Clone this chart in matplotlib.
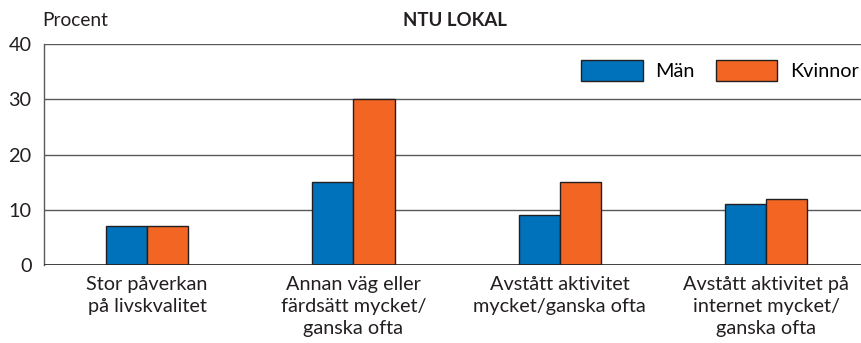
import matplotlib
matplotlib.use("Agg")
import matplotlib.pyplot as plt
import numpy as np

plt.rcParams['font.family'] = ['Lato', 'DejaVu Sans']

categories = [
    "Stor påverkan\npå livskvalitet",
    "Annan väg eller\nfärdsätt mycket/\nganska ofta",
    "Avstått aktivitet\nmycket/ganska ofta",
    "Avstått aktivitet på\ninternet mycket/\nganska ofta",
]
man = [7, 15, 9, 11]
kvinnor = [7, 30, 15, 12]
series_names = ["Män", "Kvinnor"]
yticks = [0, 10, 20, 30, 40]

c_blue = "#0072BC"
c_orange = "#F26522"
edge = "#231F20"
fs = 14.3

fig = plt.figure(figsize=(8.61, 3.43), dpi=100)
ax = fig.add_axes([44 / 861, 1 - 265 / 343, (861 - 44) / 861, (265 - 44) / 343])

x = np.arange(len(categories))
w = 0.2
ax.bar(x - w / 2, man, w, color=c_blue, edgecolor=edge, linewidth=1.0, zorder=3, label=series_names[0])
ax.bar(x + w / 2, kvinnor, w, color=c_orange, edgecolor=edge, linewidth=1.0, zorder=3, label=series_names[1])

ax.set_xlim(-0.5, 3.46)
ax.set_ylim(0, 40)
ax.set_yticks(yticks)
ax.set_yticklabels([str(v) for v in yticks], fontsize=fs, color="#231F20")
ax.set_xticks(x)
ax.set_xticklabels(categories, fontsize=fs, color="#231F20", linespacing=1.35, va="top")
ax.tick_params(axis="both", length=0)
ax.tick_params(axis="y", pad=9)
ax.tick_params(axis="x", pad=8)

for v in yticks[1:]:
    ax.axhline(v, color="#58595B", linewidth=1.0, zorder=1)
ax.axhline(0, color="#231F20", linewidth=1.2, zorder=4)

for s in ["top", "right", "bottom"]:
    ax.spines[s].set_visible(False)
ax.spines["left"].set_color("#58595B")
ax.spines["left"].set_linewidth(1.0)

leg = ax.legend(loc="center right", bbox_to_anchor=(1.0, 0.88), ncol=2, frameon=False,
                fontsize=fs, handlelength=3.1, handleheight=1.2, columnspacing=1.05,
                handletextpad=0.65, borderaxespad=0.0, borderpad=0.1)

fig.text(42 / 861, 1 - 20 / 343, "Procent", fontsize=13.8, color="#231F20", va="center", ha="left")
fig.text(455 / 861, 1 - 21 / 343, "NTU LOKAL", fontsize=13.4, fontweight="bold", color="#231F20",
         va="center", ha="center")

fig.savefig("out.png", dpi=100)
